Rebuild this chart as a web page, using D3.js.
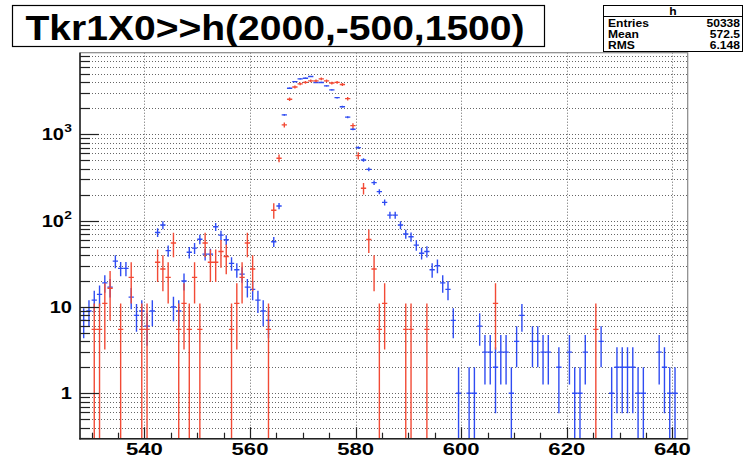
<!DOCTYPE html>
<html><head><meta charset="utf-8">
<script src="https://cdn.jsdelivr.net/npm/d3@7/dist/d3.min.js"></script>
<style>
body{margin:0;background:#fff}
svg{display:block}
text{font-family:"Liberation Sans",Arial,Helvetica,sans-serif;font-weight:bold;fill:#000}
</style>
</head><body>
<svg id="c" width="746" height="460"></svg>
<script>
// ---------------- data ----------------
const titleText = "Tkr1X0>>h(2000,-500,1500)";
const statsTitle = "h";
const statsNames = ["Entries", "Mean", "RMS"];
const statsValues = ["50338", "572.5", "6.148"];

const binStart = 528;   // lower edge of first bin, bin width 1
// blue histogram contents, bins 528..642
const blueValues = [
  7, 9, 12, 14, 19, 17, 34, 28, 28, 13,      // 528-537
  8, 9, 6, 9, 73, 89, 45, 10, 9, 20,         // 538-547
  43, 48, 61, 41, 41, 85, 68, 60, 32, 27,    // 548-557
  24, 17, 16, 12, 9, 7, 57, 148, 1680, 3420, // 558-567
  4080, 4390, 4470, 4680, 3990, 3990, 3640, 3270, 2660, 2090, // 568-577
  1580, 1146, 701, 505, 393, 276, 217, 163, 116, 116,         // 578-587
  89, 70, 65, 52, 42, 44, 27, 30, 19, 16,    // 588-597
  7, 1, 0, 1, 1, 6, 3, 3, 2, 3,              // 598-607
  3, 1, 4, 8, 0, 4, 4, 3, 3, 0,              // 608-617
  2, 0, 3, 1, 1, 3, 0, 0, 4, 0,              // 618-627
  1, 2, 2, 2, 2, 1, 1, 0, 0, 3,              // 628-637
  2, 1, 1, 0, 0                              // 638-642
];
// red histogram contents (weighted), bins 528..642
const redValues = [
  0, 0, 5.5, 5.5, 11, 16.5, 0, 5.5, 0, 22,        // 528-537
  0, 5.5, 5.5, 0, 33, 27.5, 22, 55, 5.5, 11,      // 538-547
  5.5, 22, 5.5, 55, 33, 33, 44, 38.5, 5.5, 11,    // 548-557
  22, 55, 27.5, 0, 0, 5.5, 132, 528, 1285, 2550,  // 558-567
  3530, 3840, 4000, 4160, 4160, 4390, 4160, 3930, 4000, 3780, // 568-577
  2590, 1260, 566, 237, 60.5, 27.5, 5.5, 11, 0, 0, // 578-587
  0, 5.5, 5.5, 0, 0, 5.5, 0, 0, 0, 0,             // 588-597
  0, 0, 0, 0, 0, 0, 0, 0, 11, 0,                  // 598-607
  0, 0, 0, 0, 0, 0, 0, 0, 0, 0,                   // 608-617
  0, 0, 0, 0, 0, 0, 0, 5.5, 0, 0,                 // 618-627
  0, 0, 0, 0, 0, 0, 0, 0, 0, 0,                   // 628-637
  0, 0, 0, 0, 0                                   // 638-642
];
const blueWeight = 1;
const redWeight = 5.5;

const xMajorTicks = [540, 560, 580, 600, 620, 640];
const yLabelBases = ["1", "10", "10", "10"];
const yLabelExps  = ["", "", "2", "3"];
const yLabelValues = [1, 10, 100, 1000];

// ---------------- drawing ----------------
const svg = d3.select("#c");
const L = 80, R = 687.7, T = 52.7, B = 438.7;
const x = d3.scaleLinear().domain([527.8, 642.9]).range([L, R]);
const y = d3.scaleLog().domain([0.298, 8820]).range([B, T]);

svg.append("rect").attr("width", 746).attr("height", 460).attr("fill", "#fff");

// title box
svg.append("rect").attr("x", 12.5).attr("y", 5.5).attr("width", 532).attr("height", 41)
  .attr("fill", "#fff").attr("stroke", "#000").attr("stroke-width", 1.2);
svg.append("text").attr("transform", "translate(275,40) scale(1.1,1)")
  .attr("text-anchor", "middle").attr("font-size", 35.5).text(titleText);

// stats box
const sb = svg.append("g");
sb.append("rect").attr("x", 603.5).attr("y", 5.5).attr("width", 139).attr("height", 46)
  .attr("fill", "#fff").attr("stroke", "#000").attr("stroke-width", 1);
sb.append("line").attr("x1", 603.5).attr("x2", 742.5).attr("y1", 16.5).attr("y2", 16.5).attr("stroke", "#000");
sb.append("text").attr("transform", "translate(673,14.5) scale(1.15,1)").attr("text-anchor", "middle")
  .attr("font-size", 10.5).text(statsTitle);
statsNames.forEach((n, i) => {
  sb.append("text").attr("transform", `translate(608,${26.5 + i * 11}) scale(1.15,1)`)
    .attr("font-size", 10.5).text(n);
  sb.append("text").attr("transform", `translate(740,${26.5 + i * 11}) scale(1.15,1)`)
    .attr("text-anchor", "end").attr("font-size", 10.5).text(statsValues[i]);
});

// grid
const grid = svg.append("g").attr("stroke", "#666").attr("stroke-width", 1).attr("stroke-dasharray", "1,2");
const yTicksAll = y.ticks().filter(v => v >= 0.3 && v <= 8000);
yTicksAll.forEach(v => {
  const yy = Math.round(y(v)) + 0.5;
  grid.append("line").attr("x1", L).attr("x2", R).attr("y1", yy).attr("y2", yy);
});
xMajorTicks.forEach(v => {
  const xx = Math.round(x(v)) + 0.5;
  grid.append("line").attr("x1", xx).attr("x2", xx).attr("y1", T).attr("y2", B);
});

// frame
svg.append("rect").attr("x", L).attr("y", T).attr("width", R - L).attr("height", B - T)
  .attr("fill", "none").attr("stroke", "#888").attr("stroke-width", 1.2);

// data
const clip = svg.append("clipPath").attr("id", "pc");
clip.append("rect").attr("x", L).attr("y", T).attr("width", R - L).attr("height", B - T);
const plot = svg.append("g").attr("clip-path", "url(#pc)");

function drawHist(vals, w, color) {
  const g = plot.append("g").attr("stroke", color).attr("stroke-width", 1.4);
  vals.forEach((v, i) => {
    if (v <= 0) return;
    const lo = binStart + i, c = lo + 0.5;
    const e = Math.sqrt(v * w);
    const yv = y(v);
    const yTop = y(v + e);
    const yBot = (v - e) > 0.01 ? y(v - e) : B + 5;
    g.append("line").attr("x1", x(lo)).attr("x2", x(lo + 1)).attr("y1", yv).attr("y2", yv);
    g.append("line").attr("x1", x(c)).attr("x2", x(c)).attr("y1", yTop).attr("y2", yBot);
  });
}
drawHist(blueValues, blueWeight, "#2f4cf2");
drawHist(redValues, redWeight, "#f24a35");

// axes
const ax = svg.append("g").attr("stroke", "#222").attr("stroke-width", 1.5);
ax.append("line").attr("x1", L).attr("x2", L).attr("y1", T).attr("y2", B + 0.7);
ax.append("line").attr("x1", L - 0.7).attr("x2", R).attr("y1", B).attr("y2", B);
// y ticks
yTicksAll.forEach(v => {
  const major = yLabelValues.includes(v);
  const yy = Math.round(y(v)) + 0.5;
  svg.append("line").attr("x1", L).attr("x2", L + (major ? 19 : 10)).attr("y1", yy).attr("y2", yy)
    .attr("stroke", "#222").attr("stroke-width", 1.2);
});
// x ticks
d3.range(530, 643, 5).forEach(v => {
  const major = xMajorTicks.includes(v);
  const xx = Math.round(x(v)) + 0.5;
  svg.append("line").attr("x1", xx).attr("x2", xx).attr("y1", B).attr("y2", B - (major ? 11.5 : 6))
    .attr("stroke", "#222").attr("stroke-width", 1.2);
});

// labels
xMajorTicks.forEach(v => {
  svg.append("text").attr("transform", `translate(${x(v)},455) scale(1.3,1)`)
    .attr("text-anchor", "middle").attr("font-size", 17).text(String(v));
});
yLabelValues.forEach((v, i) => {
  const yy = y(v) + 6;
  if (yLabelExps[i]) {
    svg.append("text").attr("transform", `translate(72,${y(v) - 2}) scale(1.25,1)`)
      .attr("text-anchor", "end").attr("font-size", 11).text(yLabelExps[i]);
    svg.append("text").attr("transform", `translate(64,${yy}) scale(1.25,1)`)
      .attr("text-anchor", "end").attr("font-size", 16).text(yLabelBases[i]);
  } else {
    svg.append("text").attr("transform", `translate(72,${yy}) scale(1.25,1)`)
      .attr("text-anchor", "end").attr("font-size", 16).text(yLabelBases[i]);
  }
});
</script>
</body></html>
